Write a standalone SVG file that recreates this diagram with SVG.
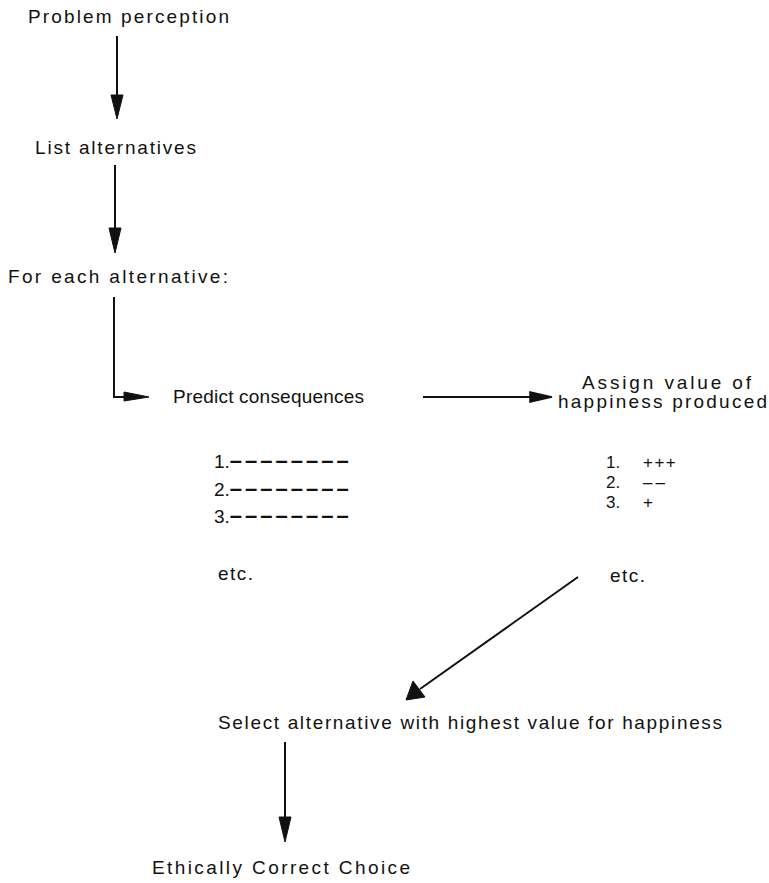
<svg xmlns="http://www.w3.org/2000/svg" width="769" height="883" viewBox="0 0 769 883">
<style>
text{font-family:"Liberation Sans",Arial,sans-serif;font-size:19px;fill:#111}
.dash{font-size:22px;font-weight:bold}
.vl{font-size:17px}
.ln{stroke:#111;stroke-width:2;fill:none}
.hd{fill:#111;stroke:#111;stroke-width:1;stroke-linejoin:miter}
</style>
<rect width="769" height="883" fill="#fff"/>
<g id="connectors">
<line class="ln" x1="117" y1="36" x2="117" y2="100"/>
<polygon class="hd" points="111,95 123,95 117,119"/>
<line class="ln" x1="115" y1="165" x2="115" y2="232"/>
<polygon class="hd" points="109,228 121,228 115,253"/>
<polyline class="ln" points="114,297 114,397 128,397"/>
<polygon class="hd" points="124,392 124,401 149,397"/>
<line class="ln" x1="423" y1="397" x2="532" y2="397"/>
<polygon points="530,392 530,402 552,397" fill="#111" stroke="#111" stroke-width="1.5"/>
<line class="ln" x1="578" y1="577" x2="420" y2="689"/>
<polygon class="hd" points="413,681 425,697 406,700"/>
<line class="ln" x1="285" y1="742" x2="285" y2="820"/>
<polygon class="hd" points="279,817 291,817 285,842"/>
</g>
<g id="problem-perception"><text x="28" y="23" textLength="201" lengthAdjust="spacing">Problem perception</text></g>
<g id="list-alternatives"><text x="35" y="154" textLength="161" lengthAdjust="spacing">List alternatives</text></g>
<g id="for-each"><text x="8" y="283" textLength="220" lengthAdjust="spacing">For each alternative:</text></g>
<g id="predict"><text x="173" y="403" textLength="191" lengthAdjust="spacing">Predict consequences</text></g>
<g id="consequence-list">
<text x="214" y="468">1.<tspan class="dash" letter-spacing="3">––––––––</tspan></text>
<text x="214" y="496">2.<tspan class="dash" letter-spacing="3">––––––––</tspan></text>
<text x="214" y="523">3.<tspan class="dash" letter-spacing="3">––––––––</tspan></text>
<text x="218" y="580" textLength="35" lengthAdjust="spacing">etc.</text>
</g>
<g id="assign">
<text x="582" y="389" textLength="169" lengthAdjust="spacing">Assign value of</text>
<text x="558" y="408" textLength="209" lengthAdjust="spacing">happiness produced</text>
</g>
<g id="value-list">
<text class="vl" x="606" y="468">1.<tspan x="643" letter-spacing="1.5">+++</tspan></text>
<text class="vl" x="606" y="488">2.<tspan x="643" letter-spacing="3">––</tspan></text>
<text class="vl" x="606" y="508">3.<tspan x="643">+</tspan></text>
<text x="610" y="582" textLength="35" lengthAdjust="spacing">etc.</text>
</g>
<g id="select"><text x="218" y="729" textLength="504" lengthAdjust="spacing">Select alternative with highest value for happiness</text></g>
<g id="choice"><text x="152" y="874" textLength="258" lengthAdjust="spacing">Ethically Correct Choice</text></g>
</svg>
